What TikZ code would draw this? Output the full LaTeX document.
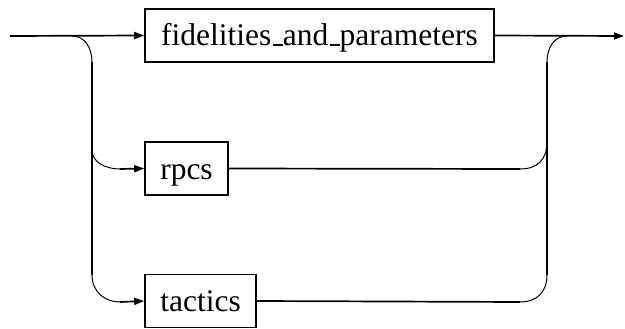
\documentclass[tikz,border=0pt]{standalone}
\usepackage{fontspec}
\setmainfont{Liberation Serif}
\usetikzlibrary{arrows.meta}
% short underscore sitting on the baseline, as in classic LaTeX output
\newcommand{\lowbar}{\kern.06em\vbox{\hrule width .3em height .07em}}
\begin{document}
\begin{tikzpicture}[x=1pt,y=-1pt,
  railline/.style={line width=1.7pt},
  railarc/.style={line width=1pt},
  tip/.style={-{Triangle[length=10pt,width=7pt]}},
  term/.style={draw,line width=1.6pt,inner sep=0pt,minimum height=53pt,
    text height=21pt,text depth=0pt,font=\rmfamily\fontsize{31.5}{38}\selectfont}]
\useasboundingbox (0,0) rectangle (625,329);

% terminals
\node[term,minimum width=349pt] (fid) at (319.5,35.5) {fidelities\lowbar and\lowbar parameters};
\node[term,minimum width=83pt] (rpcs) at (186.5,168.5) {rpcs};
\node[term,minimum width=111pt] (tac) at (200.5,301) {tactics};

% entry and exit points
\coordinate (start) at (10,36);
\coordinate (finish) at (624,36);
\coordinate (lsplit) at (72,36);
\coordinate (ltop) at (92,62);
\coordinate (lmid) at (92,150);
\coordinate (lbot) at (92,275);
\coordinate (rpcsin) at (120,169);
\coordinate (tacin) at (120,302);
\coordinate (rjoin) at (567,36);
\coordinate (rtop) at (547,62);
\coordinate (rmid) at (547,142);
\coordinate (rbot) at (547,275);
\coordinate (rpcsout) at (520,169);
\coordinate (tacout) at (520,302);

% main track
\draw[railline,tip] (start) -- (fid.west);
\draw[railline,tip] (fid.east) -- (finish);

% left fork
\draw[railarc] (lsplit) .. controls (85,36) and (92,48) .. (ltop);
\draw[railline] (ltop) -- (lbot);
\draw[railarc] (lmid) .. controls (92,162) and (105,169) .. (rpcsin);
\draw[railarc] (lbot) .. controls (92,292) and (105,302) .. (tacin);
\draw[railline,tip] (rpcsin) -- (rpcs.west);
\draw[railline,tip] (tacin) -- (tac.west);

% right join
\draw[railline] (rpcs.east) -- (rpcsout);
\draw[railline] (tac.east) -- (tacout);
\draw[railarc] (rpcsout) .. controls (537,169) and (547,160) .. (rmid);
\draw[railarc] (tacout) .. controls (537,302) and (547,292) .. (rbot);
\draw[railline] (rtop) -- (rbot);
\draw[railarc] (rtop) .. controls (547,48) and (554,36) .. (rjoin);
\end{tikzpicture}
\end{document}
